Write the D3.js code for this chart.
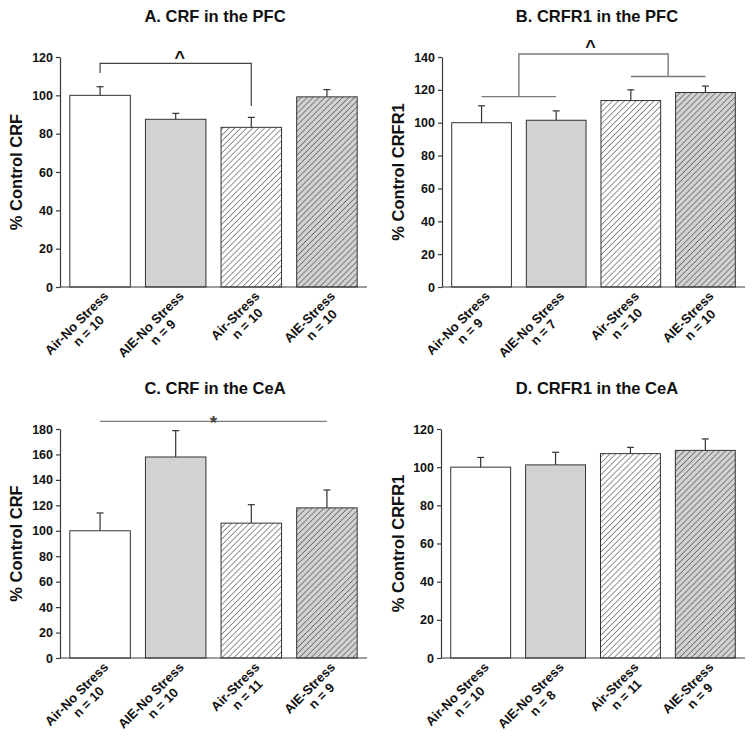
<!DOCTYPE html>
<html>
<head>
<meta charset="utf-8">
<script src="https://cdn.jsdelivr.net/npm/d3@7"></script>
<style>
  body { margin: 0; background: #fff; }
  svg { display: block; font-family: "Liberation Sans", Arial, sans-serif; }
</style>
</head>
<body>
<svg id="chart" width="754" height="736"></svg>
<script>
// ---------- data ----------
const categories = ["Air-No Stress", "AIE-No Stress", "Air-Stress", "AIE-Stress"];
const fills = ["white", "gray", "hatchWhite", "hatchGray"];

const titleA = "A. CRF in the PFC";
const ylabelA = "% Control CRF";
const nA = ["n = 10", "n = 9", "n = 10", "n = 10"];
const valuesA = [100, 87.5, 83.3, 99.2];
const errorsA = [4.5, 3.1, 5.2, 3.8];
const ticksA = [0, 20, 40, 60, 80, 100, 120];

const titleB = "B. CRFR1 in the PFC";
const ylabelB = "% Control CRFR1";
const nB = ["n = 9", "n = 7", "n = 10", "n = 10"];
const valuesB = [100, 101.5, 113.5, 118.4];
const errorsB = [10.3, 5.7, 6.5, 3.9];
const ticksB = [0, 20, 40, 60, 80, 100, 120, 140];

const titleC = "C. CRF in the CeA";
const ylabelC = "% Control CRF";
const nC = ["n = 10", "n = 10", "n = 11", "n = 9"];
const valuesC = [100, 158, 106, 118];
const errorsC = [14, 20.7, 14.5, 14.1];
const ticksC = [0, 20, 40, 60, 80, 100, 120, 140, 160, 180];

const titleD = "D. CRFR1 in the CeA";
const ylabelD = "% Control CRFR1";
const nD = ["n = 10", "n = 8", "n = 11", "n = 9"];
const valuesD = [100, 101.2, 107.1, 108.8];
const errorsD = [5.1, 6.6, 3.3, 6.0];
const ticksD = [0, 20, 40, 60, 80, 100, 120];

// significance annotations (category indices & data values)
const bracketA = { from: 0, to: 2, top: 116.7, leftEnd: 111.6, rightEnd: 94.4, label: "^" };
const bracketB = { left: [0, 1, 115.9], right: [2, 3, 128.1], top: 141.8, label: "^" };
const lineC = { from: 0, to: 3, value: 186, label: "*" };

// ---------- drawing ----------
const svg = d3.select("#chart");
const defs = svg.append("defs");
function hatch(id, bg) {
  const p = defs.append("pattern").attr("id", id)
    .attr("patternUnits", "userSpaceOnUse")
    .attr("width", 4.2).attr("height", 4.2)
    .attr("patternTransform", "rotate(45)");
  p.append("rect").attr("width", 4.2).attr("height", 4.2).attr("fill", bg);
  p.append("line").attr("x1", 0).attr("y1", 0).attr("x2", 0).attr("y2", 4.2)
    .attr("stroke", "#3a3a3a").attr("stroke-width", 1.1);
}
hatch("hatchWhite", "#ffffff");
hatch("hatchGray", "#d2d2d2");
const fillMap = { white: "#ffffff", gray: "#d2d2d2", hatchWhite: "url(#hatchWhite)", hatchGray: "url(#hatchGray)" };

const AX = "#3a3a3a";

function panel(cfg) {
  const g = svg.append("g");
  const x = d3.scaleBand().domain(categories)
    .range([cfg.x0, cfg.x1]).paddingInner(0.2).paddingOuter(0.13);
  const y = d3.scaleLinear().domain([0, cfg.ticks[cfg.ticks.length - 1]])
    .range([cfg.y0, cfg.y1]);

  // title
  g.append("text").attr("x", cfg.titleX).attr("y", cfg.titleY)
    .attr("text-anchor", "middle").attr("font-size", 16.5).attr("font-weight", "bold")
    .attr("fill", "#111").text(cfg.title);

  // y label
  g.append("text")
    .attr("transform", `translate(${cfg.ylabX},${(cfg.y0 + cfg.y1) / 2}) rotate(-90)`)
    .attr("text-anchor", "middle").attr("font-size", 16.5).attr("font-weight", "bold")
    .attr("fill", "#111").text(cfg.ylabel);

  // bars
  const data = categories.map((c, i) => ({ c, v: cfg.values[i], e: cfg.errors[i], f: fills[i], n: cfg.n[i] }));
  g.selectAll("rect.bar").data(data).join("rect").attr("class", "bar")
    .attr("x", d => x(d.c)).attr("width", x.bandwidth())
    .attr("y", d => y(d.v)).attr("height", d => y(0) - y(d.v))
    .attr("fill", d => fillMap[d.f]).attr("stroke", "#333").attr("stroke-width", 1);

  // error bars (upper only)
  const eb = g.selectAll("g.err").data(data).join("g").attr("class", "err");
  eb.append("line")
    .attr("x1", d => x(d.c) + x.bandwidth() / 2).attr("x2", d => x(d.c) + x.bandwidth() / 2)
    .attr("y1", d => y(d.v)).attr("y2", d => y(d.v + d.e))
    .attr("stroke", "#333").attr("stroke-width", 1.2);
  eb.append("line")
    .attr("x1", d => x(d.c) + x.bandwidth() / 2 - 3.5).attr("x2", d => x(d.c) + x.bandwidth() / 2 + 3.5)
    .attr("y1", d => y(d.v + d.e)).attr("y2", d => y(d.v + d.e))
    .attr("stroke", "#333").attr("stroke-width", 1.2);

  // y axis
  const ya = g.append("g").attr("transform", `translate(${cfg.x0},0)`)
    .call(d3.axisLeft(y).tickValues(cfg.ticks).tickSizeInner(4).tickSizeOuter(0).tickPadding(3));
  ya.select(".domain").attr("stroke", AX).attr("stroke-width", 1.2);
  ya.selectAll(".tick line").attr("stroke", AX).attr("stroke-width", 1.2);
  ya.selectAll(".tick text").attr("font-size", 12.5).attr("font-weight", "bold")
    .attr("fill", "#111").attr("font-family", '"Liberation Sans", Arial, sans-serif');

  // x axis line
  const xa = g.append("g").attr("transform", `translate(0,${cfg.y0})`)
    .call(d3.axisBottom(x).tickSize(0).tickFormat(""));
  xa.select(".domain").attr("stroke", AX).attr("stroke-width", 1.2)
    .attr("d", `M${cfg.x0},0H${cfg.x1}`);

  // x labels (rotated, two lines)
  const lab = g.selectAll("g.xl").data(data).join("g").attr("class", "xl")
    .attr("transform", d => `translate(${x(d.c) + x.bandwidth() / 2 + 9},${cfg.y0 + 10}) rotate(-45)`);
  lab.append("text").attr("class", "l1").attr("text-anchor", "end")
    .attr("font-size", 13).attr("font-weight", "bold").attr("fill", "#111").text(d => d.c);
  lab.each(function (d) {
    const gg = d3.select(this);
    const w = gg.select("text.l1").node().getComputedTextLength();
    gg.append("text").attr("x", -w / 2 + 3).attr("y", 14).attr("text-anchor", "middle")
      .attr("font-size", 13).attr("font-weight", "bold").attr("fill", "#111").text(d.n);
  });

  return { g, x, y, cx: c => x(categories[c]) + x.bandwidth() / 2 };
}

const pA = panel({ title: titleA, titleX: 215, titleY: 22, ylabel: ylabelA, ylabX: 22,
  x0: 60, x1: 367, y0: 287, y1: 57, values: valuesA, errors: errorsA, n: nA, ticks: ticksA });
const pB = panel({ title: titleB, titleX: 597, titleY: 22, ylabel: ylabelB, ylabX: 404,
  x0: 442, x1: 745, y0: 287, y1: 57, values: valuesB, errors: errorsB, n: nB, ticks: ticksB });
const pC = panel({ title: titleC, titleX: 215, titleY: 394, ylabel: ylabelC, ylabX: 22,
  x0: 60, x1: 367, y0: 658, y1: 429, values: valuesC, errors: errorsC, n: nC, ticks: ticksC });
const pD = panel({ title: titleD, titleX: 597, titleY: 394, ylabel: ylabelD, ylabX: 404,
  x0: 441, x1: 745, y0: 658, y1: 429, values: valuesD, errors: errorsD, n: nD, ticks: ticksD });

// Panel A bracket
{
  const { g, y, cx } = pA;
  const xl = cx(bracketA.from), xr = cx(bracketA.to);
  const path = d3.path();
  path.moveTo(xl, y(bracketA.leftEnd)); path.lineTo(xl, y(bracketA.top));
  path.lineTo(xr, y(bracketA.top)); path.lineTo(xr, y(bracketA.rightEnd));
  g.append("path").attr("d", path.toString()).attr("fill", "none")
    .attr("stroke", "#444").attr("stroke-width", 1.2);
  g.append("text").attr("x", (xl + xr) / 2 + 4).attr("y", y(bracketA.top) + 1)
    .attr("text-anchor", "middle").attr("font-size", 18).attr("font-weight", "bold")
    .attr("fill", "#111").text(bracketA.label);
}
// Panel B brackets
{
  const { g, y, cx } = pB;
  const L1 = cx(bracketB.left[0]), L2 = cx(bracketB.left[1]);
  const R1 = cx(bracketB.right[0]), R2 = cx(bracketB.right[1]);
  const lm = (L1 + L2) / 2, rm = (R1 + R2) / 2;
  const st = { stroke: "#7a7a7a", w: 1.4 };
  const add = (d) => g.append("path").attr("d", d).attr("fill", "none")
    .attr("stroke", st.stroke).attr("stroke-width", st.w);
  const p1 = d3.path(); p1.moveTo(L1, y(bracketB.left[2])); p1.lineTo(L2, y(bracketB.left[2])); add(p1.toString());
  const p2 = d3.path(); p2.moveTo(R1, y(bracketB.right[2])); p2.lineTo(R2, y(bracketB.right[2])); add(p2.toString());
  const p3 = d3.path(); p3.moveTo(lm, y(bracketB.left[2])); p3.lineTo(lm, y(bracketB.top));
  p3.lineTo(rm, y(bracketB.top)); p3.lineTo(rm, y(bracketB.right[2])); add(p3.toString());
  g.append("text").attr("x", (lm + rm) / 2 - 3).attr("y", y(bracketB.top) - 1)
    .attr("text-anchor", "middle").attr("font-size", 18).attr("font-weight", "bold")
    .attr("fill", "#111").text(bracketB.label);
}
// Panel C line
{
  const { g, y, cx } = pC;
  const xl = cx(lineC.from), xr = cx(lineC.to);
  g.append("line").attr("x1", xl).attr("x2", xr).attr("y1", y(lineC.value)).attr("y2", y(lineC.value))
    .attr("stroke", "#7a7a7a").attr("stroke-width", 1.4);
  g.append("text").attr("x", (xl + xr) / 2).attr("y", y(lineC.value) + 8)
    .attr("text-anchor", "middle").attr("font-size", 19).attr("font-weight", "bold")
    .attr("fill", "#444").text(lineC.label);
}
</script>
</body>
</html>
